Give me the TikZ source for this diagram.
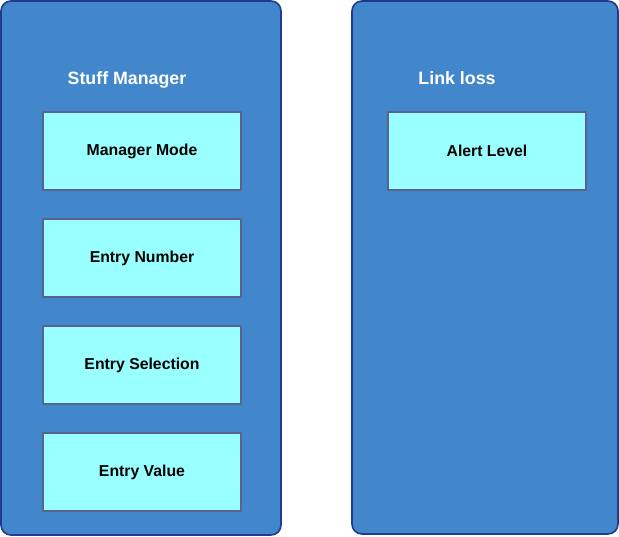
\documentclass[tikz,border=0pt]{standalone}
\usepackage{fontspec}
\setmainfont{Liberation Sans}
\definecolor{panelfill}{HTML}{4287CB}
\definecolor{paneldraw}{HTML}{1F3A8F}
\definecolor{fieldfill}{HTML}{99FFFF}
\definecolor{fielddraw}{HTML}{596392}
\begin{document}
\begin{tikzpicture}[x=1pt, y=-1pt, line join=round,
	panel/.style={draw=paneldraw, fill=panelfill, line width=1.6pt, rounded corners=10pt, inner sep=0pt},
	field/.style={draw=fielddraw, fill=fieldfill, line width=1.6pt, minimum width=198pt, minimum height=78pt, inner sep=0pt, font=\fontsize{15.8}{18}\selectfont\bfseries},
	title/.style={text=white, anchor=base, font=\fontsize{17.8}{20}\selectfont\bfseries}]
	\useasboundingbox (0,0) rectangle (619,536);
	\node[panel, minimum width=280pt, minimum height=534pt] (stuff) at (141,268) {};
	\node[panel, minimum width=266pt, minimum height=533pt] (link) at (485,267.5) {};
	\node[title] (stufftitle) at (127,84) {Stuff Manager};
	\node[title] (linktitle) at (457,84) {Link loss};
	\foreach \y/\n/\t in {151/mode/Manager Mode, 258/number/Entry Number, 365/selection/Entry Selection, 472/value/Entry Value}
		\node[field] (\n) at (142,\y) {\t};
	\node[field] (alert) at (487,151) {Alert Level};
\end{tikzpicture}
\end{document}
